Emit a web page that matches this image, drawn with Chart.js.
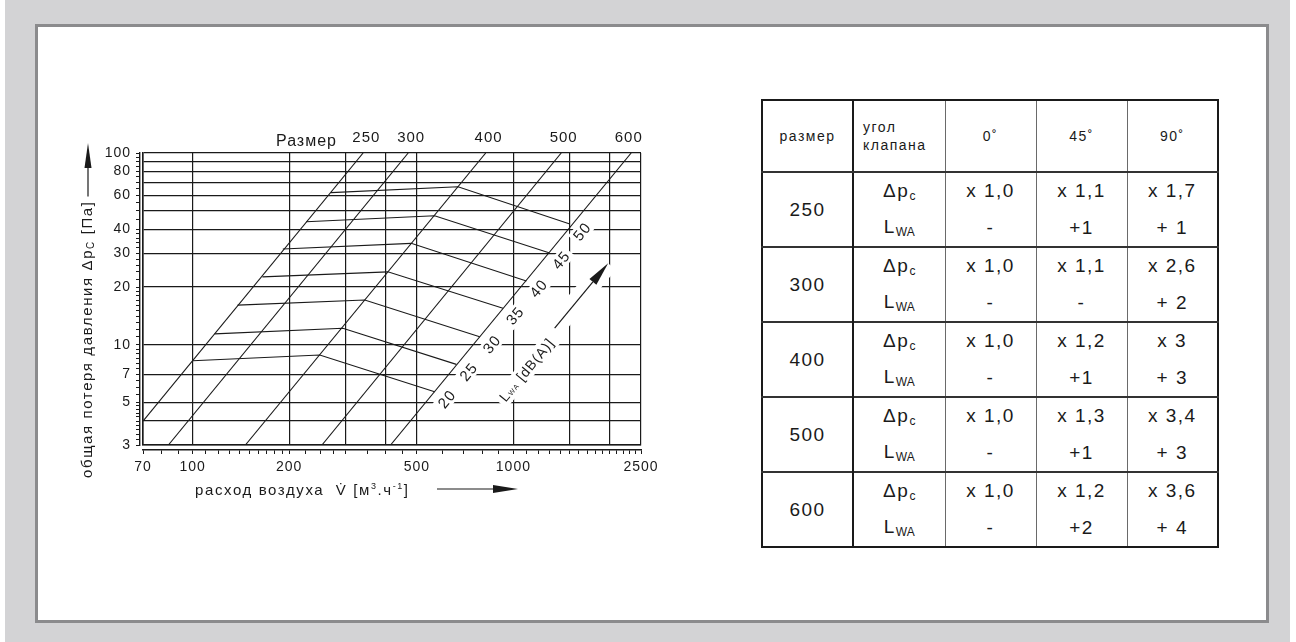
<!DOCTYPE html>
<html>
<head>
<meta charset="utf-8">
<script src="https://cdn.jsdelivr.net/npm/chart.js@4.4.0/dist/chart.umd.min.js"></script>
<style>
  body { margin:0; background:#fff; overflow:hidden; font-family:"Liberation Sans", Arial, sans-serif; }
  #bg { position:absolute; left:5px; top:0; width:1285px; height:642px; background:#d3d3d5; }
  #panel { position:absolute; left:35px; top:24px; width:1228px; height:593px; border:3px solid #8b8b8d; background:#fff; }
  #wrap { position:absolute; left:60px; top:100px; width:640px; height:420px; }
  #tbl { position:absolute; left:761px; top:99px; width:456px; table-layout:fixed; border-collapse:collapse;
         border:2.5px solid #1a1a1a; color:#1a1a1a; letter-spacing:1.5px; }
  #tbl td { padding:0; text-align:center; vertical-align:middle; border-left:1.3px solid #6a6a6a; }
  #tbl td.c2 { border-left:2.3px solid #1a1a1a; }
  #tbl tr.head td { height:70px; font-size:14px; border-bottom:2px solid #333; }
  #tbl tr.head td.c2 { text-align:left; padding-left:9px; line-height:18px; }
  #tbl tr.a td { height:36px; font-size:19px; border-top:2px solid #333; }
  #tbl tr.b td { height:37px; font-size:19px; }
  #tbl td.sz { font-size:15px; }
  #tbl sub { font-size:12px; vertical-align:-3px; letter-spacing:0; }
</style>
</head>
<body>
<div id="bg"></div>
<div id="panel"></div>
<div id="wrap"><canvas id="c" width="640" height="420"></canvas></div>
<table id="tbl">
  <colgroup><col style="width:91px"><col style="width:92px"><col style="width:91px"><col style="width:91px"><col style="width:91px"></colgroup>
  <tbody id="tb"></tbody>
</table>
<script>
// размеры клапана: прямые Δp ~ V² (две точки на каждую)
const sizeNames = ['250', '300', '400', '500', '600'];
const sizeFlowLow = [70, 84, 146, 253, 414];
const sizePressLow = [4.0, 3, 3, 3, 3];
const sizeFlowHigh = [340, 470, 820, 1410, 2330];
const sizePressHigh = [100, 100, 100, 100, 100];
const sizeLabelFlow = [348, 480, 837, 1435, 2290];

// линии уровня шума L_WA
const noiseLevels = ['20', '25', '30', '35', '40', '45', '50'];
const noiseStartFlow = [100, 117, 138, 165, 191, 226, 270];
const noiseStartPress = [8.25, 11.4, 16.1, 22.6, 31.6, 43.8, 62.1];
const noiseKneeFlow = [249, 294, 344, 406, 480, 568, 672];
const noiseKneePress = [8.84, 12.2, 17.1, 24.0, 33.8, 47.1, 66.7];
const noiseEndFlow = [568, 664, 785, 928, 1098, 1291, 1500];
const noiseEndPress = [5.69, 7.9, 11.0, 15.5, 21.5, 30.2, 42.6];

// оси
const xGridTicks = [70, 100, 200, 300, 400, 500, 1000, 1500, 2000, 2500];
const xLabelTicks = [70, 100, 200, 500, 1000, 2500];
const yGridTicks = [3, 4, 5, 7, 10, 20, 30, 40, 50, 60, 70, 80, 90, 100];
const yLabelTicks = [3, 5, 7, 10, 20, 30, 40, 60, 80, 100];
const xMinorSteps = [[70, 100, 10], [100, 200, 10], [200, 300, 25], [300, 500, 50], [500, 1000, 100], [1000, 2000, 100], [2000, 2500, 100]];
const yMinorSteps = [[3, 5, 0.2], [5, 10, 0.5], [10, 20, 1], [20, 40, 2], [40, 100, 5]];

// подпись L_WA и стрелка (в единицах осей)
const lwaLabelAt = [1100, 7.4];
const lwaArrowFrom = [1345, 12.2];
const lwaArrowTo = [1975, 26.6];

// таблица поправок
const tableSizes = ['250', '300', '400', '500', '600'];
const tableAngles = ['0˚', '45˚', '90˚'];
const dpFactor0 = ['x 1,0', 'x 1,0', 'x 1,0', 'x 1,0', 'x 1,0'];
const dpFactor45 = ['x 1,1', 'x 1,1', 'x 1,2', 'x 1,3', 'x 1,2'];
const dpFactor90 = ['x 1,7', 'x 2,6', 'x 3', 'x 3,4', 'x 3,6'];
const lwaAdd0 = ['-', '-', '-', '-', '-'];
const lwaAdd45 = ['+1', '-', '+1', '+1', '+2'];
const lwaAdd90 = ['+ 1', '+ 2', '+ 3', '+ 3', '+ 4'];

const INK = '#1a1a1a';
const FONT = '"Liberation Sans", Arial, sans-serif';

// --- таблица
let html = '<tr class="head"><td class="c1">размер</td><td class="c2">угол<br>клапана</td>';
tableAngles.forEach((a, j) => { html += '<td class="c' + (j + 3) + '">' + a + '</td>'; });
html += '</tr>';
tableSizes.forEach((s, i) => {
  html += '<tr class="a"><td class="c1 sz" rowspan="2">' + s + '</td><td class="c2">Δp<sub>c</sub></td>' +
    '<td>' + dpFactor0[i] + '</td><td>' + dpFactor45[i] + '</td><td>' + dpFactor90[i] + '</td></tr>';
  html += '<tr class="b"><td class="c2">L<sub>WA</sub></td>' +
    '<td>' + lwaAdd0[i] + '</td><td>' + lwaAdd45[i] + '</td><td>' + lwaAdd90[i] + '</td></tr>';
});
document.getElementById('tb').innerHTML = html;

// --- график
function stepsToTicks(steps) {
  const out = [];
  steps.forEach(([a, b, st]) => {
    for (let v = a; v <= b + 1e-9; v += st) {
      const r = Math.round(v * 100) / 100;
      if (!out.includes(r)) out.push(r);
    }
  });
  return out;
}
const xMinor = stepsToTicks(xMinorSteps);
const yMinor = stepsToTicks(yMinorSteps);

const datasets = [];
sizeNames.forEach((n, i) => {
  datasets.push({
    label: 'Размер ' + n,
    data: [{ x: sizeFlowLow[i], y: sizePressLow[i] }, { x: sizeFlowHigh[i], y: sizePressHigh[i] }],
    showLine: true, borderColor: INK, borderWidth: 1.1, pointRadius: 0
  });
});
noiseLevels.forEach((n, i) => {
  datasets.push({
    label: 'LWA ' + n,
    data: [
      { x: noiseStartFlow[i], y: noiseStartPress[i] },
      { x: noiseKneeFlow[i], y: noiseKneePress[i] },
      { x: noiseEndFlow[i], y: noiseEndPress[i] }
    ],
    showLine: true, borderColor: INK, borderWidth: 1.1, pointRadius: 0
  });
});

function px(chart, v, p) {
  return [chart.scales.x.getPixelForValue(v), chart.scales.y.getPixelForValue(p)];
}
function lineAngle(chart) {
  const a = px(chart, sizeFlowLow[4], sizePressLow[4]);
  const b = px(chart, sizeFlowHigh[4], sizePressHigh[4]);
  return Math.atan2(b[1] - a[1], b[0] - a[0]);
}
function noiseLabelPos(chart, i, ang) {
  const e = px(chart, noiseEndFlow[i], noiseEndPress[i]);
  const ux = Math.cos(ang), uy = Math.sin(ang);
  const nx = -uy, ny = ux;
  return [e[0] + nx * 14 + ux * 2, e[1] + ny * 14 + uy * 2];
}
// текст из кусков [строка, размер, сдвиг]
function drawParts(ctx, parts, x, y, align) {
  let w = 0;
  parts.forEach(p => { ctx.font = p[1] + 'px ' + FONT; w += ctx.measureText(p[0]).width; });
  let cx = align === 'center' ? x - w / 2 : x;
  parts.forEach(p => {
    ctx.font = p[1] + 'px ' + FONT;
    ctx.fillText(p[0], cx, y + p[2]);
    cx += ctx.measureText(p[0]).width;
  });
  return w;
}
function partsWidth(ctx, parts) {
  let w = 0;
  parts.forEach(p => { ctx.font = p[1] + 'px ' + FONT; w += ctx.measureText(p[0]).width; });
  return w;
}
const lwaParts = [['L', 14, 0], ['WA', 7, 2], [' [dB(A)]', 14, 0]];

const overlay = {
  id: 'overlay',
  beforeDraw(chart) { chart.ctx.letterSpacing = '1px'; },
  beforeDatasetsDraw(chart) {
    const ctx = chart.ctx;
    const ang = lineAngle(chart);
    ctx.save();
    ctx.fillStyle = '#fff';
    ctx.font = '15px ' + FONT;
    noiseLevels.forEach((t, i) => {
      const p = noiseLabelPos(chart, i, ang);
      const w = ctx.measureText(t).width;
      ctx.save(); ctx.translate(p[0], p[1]); ctx.rotate(ang);
      ctx.fillRect(-w / 2 - 3, -8, w + 6, 16);
      ctx.restore();
    });
    const lp = px(chart, lwaLabelAt[0], lwaLabelAt[1]);
    const lw = partsWidth(ctx, lwaParts);
    ctx.save(); ctx.translate(lp[0], lp[1]); ctx.rotate(ang);
    ctx.fillRect(-lw / 2 - 4, -9, lw + 8, 18);
    ctx.restore();
    const a0 = px(chart, lwaArrowFrom[0], lwaArrowFrom[1]);
    const a1 = px(chart, lwaArrowTo[0], lwaArrowTo[1]);
    ctx.strokeStyle = '#fff'; ctx.lineWidth = 20;
    ctx.beginPath(); ctx.moveTo(a0[0], a0[1]); ctx.lineTo(a1[0], a1[1]); ctx.stroke();
    ctx.restore();
  },
  afterDatasetsDraw(chart) {
    const ctx = chart.ctx;
    const ca = chart.chartArea;
    const ang = lineAngle(chart);
    ctx.save();
    ctx.fillStyle = INK; ctx.strokeStyle = INK;
    ctx.textBaseline = 'middle'; ctx.textAlign = 'left';
    // метки дБ вдоль линии 600
    noiseLevels.forEach((t, i) => {
      const p = noiseLabelPos(chart, i, ang);
      ctx.save(); ctx.translate(p[0], p[1]); ctx.rotate(ang);
      drawParts(ctx, [[t, 15, 0]], 0, 1, 'center');
      ctx.restore();
    });
    // L_WA [dB(A)]
    const lp = px(chart, lwaLabelAt[0], lwaLabelAt[1]);
    ctx.save(); ctx.translate(lp[0], lp[1]); ctx.rotate(ang);
    drawParts(ctx, lwaParts, 0, 1, 'center');
    ctx.restore();
    const a0 = px(chart, lwaArrowFrom[0], lwaArrowFrom[1]);
    const a1 = px(chart, lwaArrowTo[0], lwaArrowTo[1]);
    arrow(ctx, a0, a1, 24, 4.5);
    // Размер
    ctx.textBaseline = 'alphabetic'; ctx.textAlign = 'right';
    ctx.font = '16px ' + FONT;
    ctx.fillText('Размер', 277, 46);
    // подписи осей: чуть шире разрядка
    ctx.letterSpacing = '1.6px';
    ctx.save();
    ctx.translate(ca.left - 55, 378); ctx.rotate(-Math.PI / 2);
    ctx.textAlign = 'left'; ctx.textBaseline = 'middle';
    const yw = drawParts(ctx, [['общая потеря давления Δp', 15, 0], ['C', 10, 3], [' [Па]', 15, 0]], 0, 0, 'left');
    ctx.restore();
    arrow(ctx, [ca.left - 55, 378 - yw - 4], [ca.left - 55, 43], 25, 3.5);
    ctx.textAlign = 'left'; ctx.textBaseline = 'alphabetic';
    drawParts(ctx, [['расход воздуха  V\u0307 [м', 15, 0], ['3', 9, -6], ['.ч', 15, 0], ['-1', 9, -6], [']', 15, 0]], 135, 395, 'left');
    arrow(ctx, [377, 389], [458, 389], 25, 4);
    ctx.restore();
  }
};
function arrow(ctx, a, b, headLen, halfW) {
  const dx = b[0] - a[0], dy = b[1] - a[1];
  const L = Math.hypot(dx, dy), ux = dx / L, uy = dy / L;
  const bx = b[0] - ux * headLen, by = b[1] - uy * headLen;
  ctx.save();
  ctx.strokeStyle = INK; ctx.fillStyle = INK; ctx.lineWidth = 1.2;
  ctx.beginPath(); ctx.moveTo(a[0], a[1]); ctx.lineTo(bx, by); ctx.stroke();
  ctx.beginPath();
  ctx.moveTo(b[0], b[1]);
  ctx.lineTo(bx - uy * halfW, by + ux * halfW);
  ctx.lineTo(bx + uy * halfW, by - ux * halfW);
  ctx.closePath(); ctx.fill();
  ctx.restore();
}

const tickFont = { family: FONT, size: 14 };

new Chart(document.getElementById('c'), {
  type: 'scatter',
  data: { datasets },
  options: {
    responsive: false,
    animation: false,
    layout: { padding: { top: 23, left: 35, right: 59, bottom: 40 } },
    plugins: { legend: { display: false }, tooltip: { enabled: false } },
    scales: {
      x: {
        type: 'logarithmic', position: 'bottom', min: 70, max: 2500, weight: 0,
        afterBuildTicks: s => { s.ticks = xGridTicks.map(v => ({ value: v })); },
        ticks: { display: false },
        grid: { color: INK, lineWidth: 1.2, drawTicks: false },
        border: { color: INK, width: 1.6 },
        afterFit: s => { s.height = 5; }
      },
      xt: {
        type: 'logarithmic', position: 'bottom', min: 70, max: 2500, weight: 1,
        afterBuildTicks: s => { s.ticks = xMinor.map(v => ({ value: v })); },
        ticks: {
          autoSkip: false, maxRotation: 0, minRotation: 0, padding: 5, color: INK, font: tickFont,
          callback: v => (xLabelTicks.includes(v) ? String(v) : '')
        },
        grid: { drawOnChartArea: false, tickLength: 4, color: INK, lineWidth: 1 },
        border: { color: INK, width: 1.4 },
        afterFit: s => { s.height = 30; }
      },
      xs: {
        type: 'logarithmic', position: 'top', min: 70, max: 2500, weight: 0,
        afterBuildTicks: s => { s.ticks = sizeLabelFlow.map(v => ({ value: v })); },
        ticks: {
          autoSkip: false, maxRotation: 0, minRotation: 0, padding: 6, color: INK, font: { family: FONT, size: 15 },
          callback: (v, i) => sizeNames[i]
        },
        grid: { display: false, drawTicks: false },
        border: { display: false },
        afterFit: s => { s.height = 30; }
      },
      y: {
        type: 'logarithmic', position: 'left', min: 3, max: 100, weight: 0,
        afterBuildTicks: s => { s.ticks = yGridTicks.map(v => ({ value: v })); },
        ticks: { display: false },
        grid: { color: INK, lineWidth: 1.2, drawTicks: false },
        border: { color: INK, width: 1.6 },
        afterFit: s => { s.width = 3; }
      },
      yt: {
        type: 'logarithmic', position: 'left', min: 3, max: 100, weight: 1,
        afterBuildTicks: s => { s.ticks = yMinor.map(v => ({ value: v })); },
        ticks: {
          autoSkip: false, padding: 5, color: INK, font: tickFont,
          callback: v => (yLabelTicks.includes(v) ? String(v) : '')
        },
        grid: { drawOnChartArea: false, tickLength: 4, color: INK, lineWidth: 1 },
        border: { color: INK, width: 1.4 },
        afterFit: s => { s.width = 45; }
      }
    }
  },
  plugins: [overlay]
});
</script>
</body>
</html>
